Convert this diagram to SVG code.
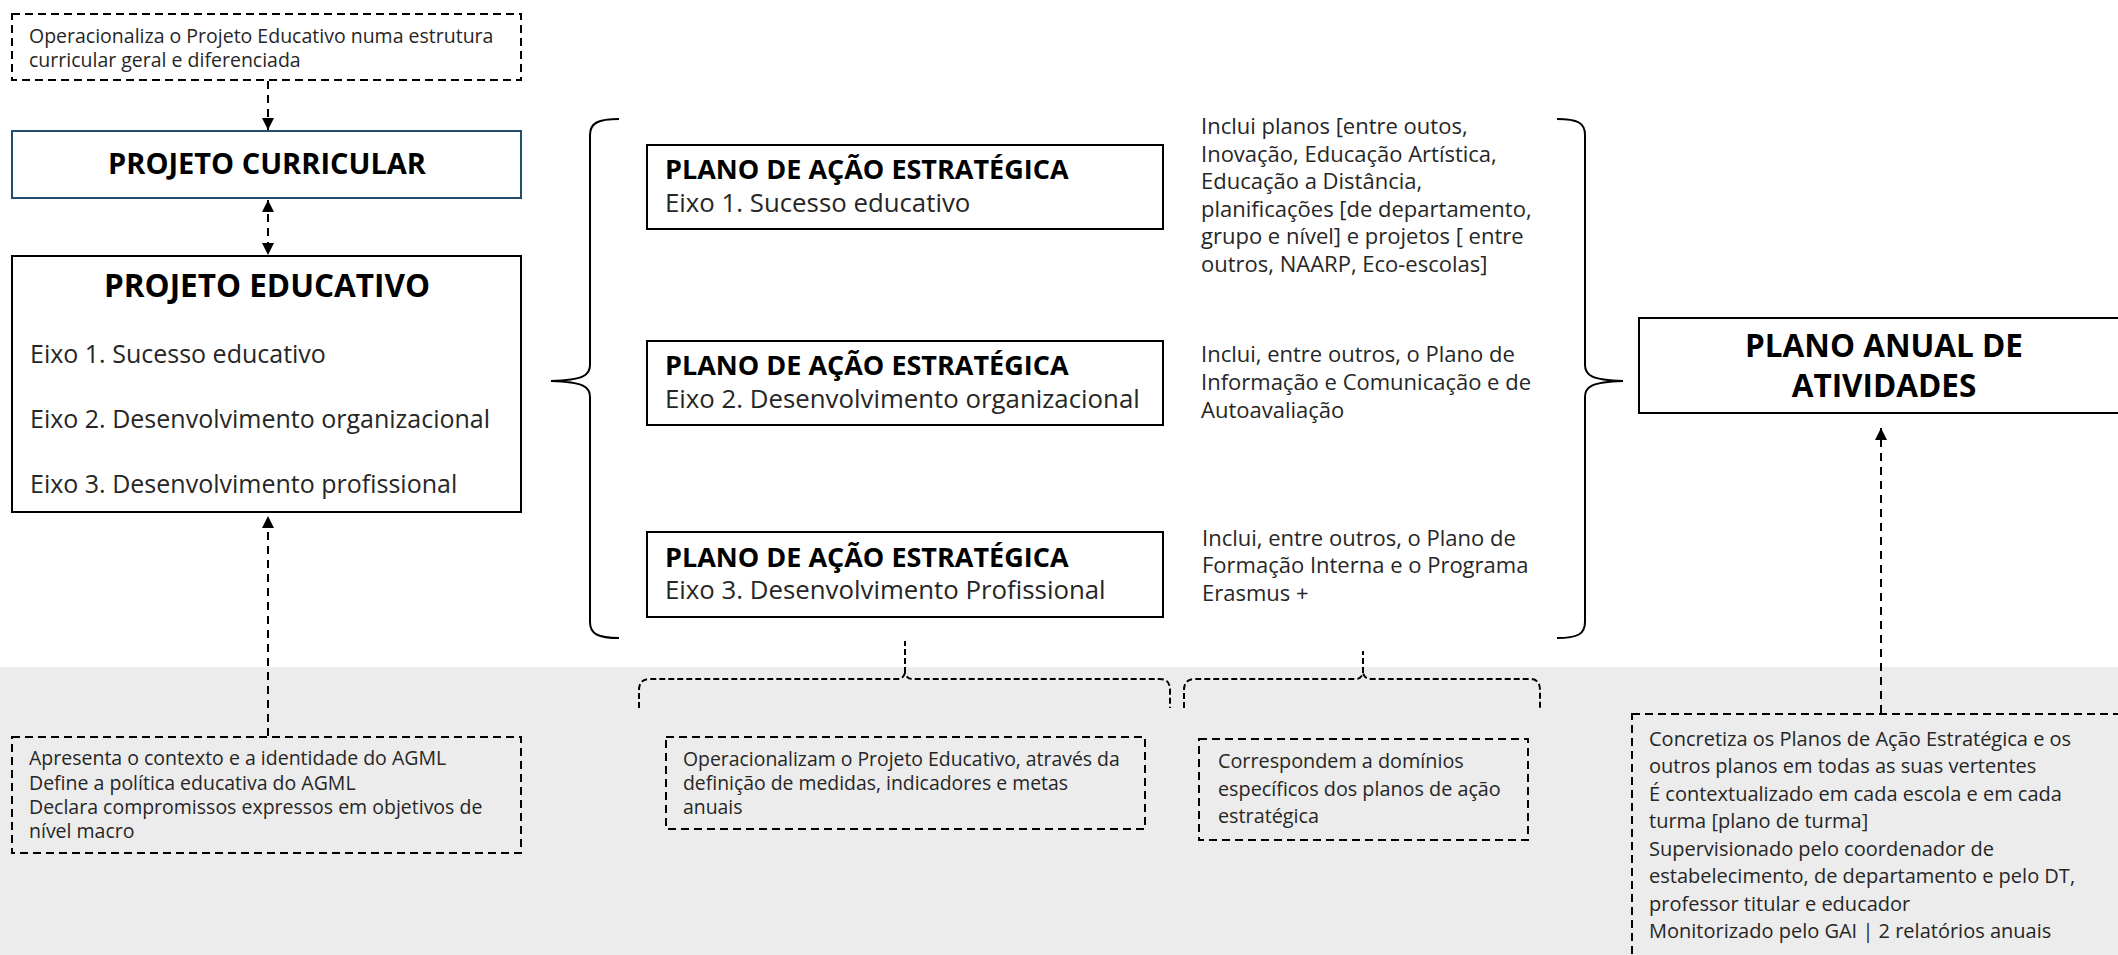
<svg xmlns="http://www.w3.org/2000/svg" width="2118" height="955" viewBox="0 0 2118 955">
<defs>
<style>
.t{font-family:"Open Sans","Noto Sans","DejaVu Sans",sans-serif;fill:#262626}
.b{font-family:"Open Sans","Noto Sans","DejaVu Sans",sans-serif;font-weight:700;fill:#000}
.box{fill:#fff;stroke:#000;stroke-width:2}
.dbox{fill:none;stroke:#000;stroke-width:2;stroke-dasharray:8 5}
.dl{fill:none;stroke:#000;stroke-width:2;stroke-dasharray:8 6}
.br{fill:none;stroke:#000;stroke-width:2}
.dbr{fill:none;stroke:#000;stroke-width:2;stroke-dasharray:6 3}
</style>
<marker id="ah" viewBox="0 0 10 10" refX="10" refY="5" markerWidth="12" markerHeight="12" markerUnits="userSpaceOnUse" orient="auto-start-reverse">
<path d="M0,0 L10,5 L0,10 z" fill="#000"/>
</marker>
</defs>
<rect x="0" y="0" width="2118" height="955" fill="#fff"/>
<rect x="0" y="667" width="2118" height="288" fill="#ececec"/>

<g id="nota-curricular">
<rect class="dbox" x="12" y="14" width="509" height="66"/>
<text class="t" font-size="19.5" x="29" y="43">Operacionaliza o Projeto Educativo numa estrutura</text>
<text class="t" font-size="19.5" x="29" y="67">curricular geral e diferenciada</text>
</g>

<g id="projeto-curricular">
<rect x="12" y="131" width="509" height="67" fill="#fff" stroke="#1f4e6e" stroke-width="2"/>
<text class="b" font-size="29" x="267" y="174" text-anchor="middle">PROJETO CURRICULAR</text>
</g>

<g id="projeto-educativo">
<rect class="box" x="12" y="256" width="509" height="256"/>
<text class="b" font-size="31.5" x="267" y="297" text-anchor="middle">PROJETO EDUCATIVO</text>
<text class="t" font-size="25" x="30" y="363" fill="#000">Eixo 1. Sucesso educativo</text>
<text class="t" font-size="25" x="30" y="428" fill="#000">Eixo 2. Desenvolvimento organizacional</text>
<text class="t" font-size="25" x="30" y="493" fill="#000">Eixo 3. Desenvolvimento profissional</text>
</g>

<g id="pae-1">
<rect class="box" x="647" y="145" width="516" height="84"/>
<text class="b" font-size="27" x="665" y="179">PLANO DE AÇÃO ESTRATÉGICA</text>
<text class="t" font-size="25.8" x="665" y="212" fill="#000">Eixo 1. Sucesso educativo</text>
</g>
<g id="pae-2">
<rect class="box" x="647" y="341" width="516" height="84"/>
<text class="b" font-size="27" x="665" y="375">PLANO DE AÇÃO ESTRATÉGICA</text>
<text class="t" font-size="25.8" x="665" y="408" fill="#000">Eixo 2. Desenvolvimento organizacional</text>
</g>
<g id="pae-3">
<rect class="box" x="647" y="532" width="516" height="85"/>
<text class="b" font-size="27" x="665" y="567">PLANO DE AÇÃO ESTRATÉGICA</text>
<text class="t" font-size="25.8" x="665" y="599" fill="#000">Eixo 3. Desenvolvimento Profissional</text>
</g>

<g id="desc-1">
<text class="t" font-size="22" x="1201" y="134">Inclui planos [entre outos,</text>
<text class="t" font-size="22" x="1201" y="162">Inovação, Educação Artística,</text>
<text class="t" font-size="22" x="1201" y="189">Educação a Distância,</text>
<text class="t" font-size="22" x="1201" y="217">planificações [de departamento,</text>
<text class="t" font-size="22" x="1201" y="244">grupo e nível] e projetos [ entre</text>
<text class="t" font-size="22" x="1201" y="272">outros, NAARP, Eco-escolas]</text>
</g>
<g id="desc-2">
<text class="t" font-size="22" x="1201" y="362">Inclui, entre outros, o Plano de</text>
<text class="t" font-size="22" x="1201" y="390">Informação e Comunicação e de</text>
<text class="t" font-size="22" x="1201" y="418">Autoavaliação</text>
</g>
<g id="desc-3">
<text class="t" font-size="22" x="1202" y="546">Inclui, entre outros, o Plano de</text>
<text class="t" font-size="22" x="1202" y="573">Formação Interna e o Programa</text>
<text class="t" font-size="22" x="1202" y="601">Erasmus +</text>
</g>

<g id="plano-anual">
<rect class="box" x="1639" y="318" width="500" height="95"/>
<text class="b" font-size="31.5" x="1884" y="357" text-anchor="middle">PLANO ANUAL DE</text>
<text class="b" font-size="31.5" x="1884" y="397" text-anchor="middle">ATIVIDADES</text>
</g>

<g id="nota-educativo">
<rect class="dbox" x="12" y="737" width="509" height="116"/>
<text class="t" font-size="19.5" x="29" y="765">Apresenta o contexto e a identidade do AGML</text>
<text class="t" font-size="19.5" x="29" y="790">Define a política educativa do AGML</text>
<text class="t" font-size="19.5" x="29" y="814">Declara compromissos expressos em objetivos de</text>
<text class="t" font-size="19.5" x="29" y="838">nível macro</text>
</g>

<g id="nota-pae">
<rect class="dbox" x="666" y="737" width="479" height="92"/>
<text class="t" font-size="19.4" x="683" y="766">Operacionalizam o Projeto Educativo, através da</text>
<text class="t" font-size="19.4" x="683" y="790">definição de medidas, indicadores e metas</text>
<text class="t" font-size="19.4" x="683" y="814">anuais</text>
</g>

<g id="nota-planos">
<rect class="dbox" x="1199" y="739" width="329" height="101"/>
<text class="t" font-size="19.8" x="1218" y="768">Correspondem a domínios</text>
<text class="t" font-size="19.8" x="1218" y="796">específicos dos planos de ação</text>
<text class="t" font-size="19.8" x="1218" y="823">estratégica</text>
</g>

<g id="nota-paa">
<rect class="dbox" x="1632" y="714" width="600" height="300"/>
<text class="t" font-size="20" x="1649" y="746">Concretiza os Planos de Ação Estratégica e os</text>
<text class="t" font-size="20" x="1649" y="773">outros planos em todas as suas vertentes</text>
<text class="t" font-size="20" x="1649" y="801">É contextualizado em cada escola e em cada</text>
<text class="t" font-size="20" x="1649" y="828">turma [plano de turma]</text>
<text class="t" font-size="20" x="1649" y="856">Supervisionado pelo coordenador de</text>
<text class="t" font-size="20" x="1649" y="883">estabelecimento, de departamento e pelo DT,</text>
<text class="t" font-size="20" x="1649" y="911">professor titular e educador</text>
<text class="t" font-size="20" x="1649" y="938">Monitorizado pelo GAI | 2 relatórios anuais</text>
</g>

<g id="connectors">
<line class="dl" x1="268" y1="81" x2="268" y2="130" marker-end="url(#ah)"/>
<line class="dl" x1="268" y1="200" x2="268" y2="255" marker-start="url(#ah)" marker-end="url(#ah)"/>
<line class="dl" x1="268" y1="736" x2="268" y2="516" marker-end="url(#ah)"/>
<line class="dl" x1="1881" y1="713" x2="1881" y2="428" marker-end="url(#ah)"/>
<path class="br" d="M619,119 C598,119 590,123 590,135 L590,365 C590,375 584,380 551,381 C584,382 590,387 590,397 L590,622 C590,634 598,638 619,638"/>
<path class="br" d="M1557,119 C1578,119 1585,123 1585,135 L1585,365 C1585,375 1591,380 1623,381 C1591,382 1585,387 1585,397 L1585,622 C1585,634 1578,638 1557,638"/>
<path class="dbr" d="M639,708 L639,690 Q639,679 650,679 L898,679 Q903,679 905,673 Q907,679 912,679 L1160,679 Q1170,679 1170,690 L1170,708"/>
<line class="dbr" x1="905" y1="673" x2="905" y2="641"/>
<path class="dbr" d="M1184,708 L1184,690 Q1184,679 1195,679 L1356,679 Q1361,679 1363,673 Q1365,679 1370,679 L1530,679 Q1540,679 1540,690 L1540,708"/>
<line class="dbr" x1="1363" y1="673" x2="1363" y2="651"/>
</g>
</svg>
